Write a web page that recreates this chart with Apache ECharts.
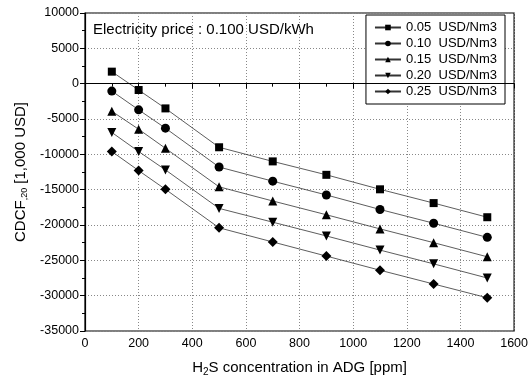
<!DOCTYPE html>
<html>
<head>
<meta charset="utf-8">
<script src="https://cdn.jsdelivr.net/npm/echarts@6/dist/echarts.min.js"></script>
<style>
  html, body { margin: 0; padding: 0; background: #fff; }
  #chart { width: 531px; height: 385px; }
</style>
</head>
<body>
<div id="chart"></div>
<script>
// H2S concentration (ppm)
const concentration = [100, 200, 300, 500, 700, 900, 1100, 1300, 1500];

// CDCF20 [1,000 USD] per biogas price
const price005 = [1700, -900, -3500, -9000, -11000, -12900, -14950, -16900, -18900];
const price010 = [-1050, -3700, -6300, -11800, -13800, -15750, -17800, -19750, -21750];
const price015 = [-3900, -6450, -9150, -14600, -16600, -18550, -20550, -22500, -24500];
const price020 = [-6900, -9600, -12200, -17650, -19600, -21550, -23550, -25500, -27500];
const price025 = [-9600, -12300, -14950, -20400, -22400, -24400, -26400, -28350, -30300];

const seriesNames = ['0.05  USD/Nm3', '0.10  USD/Nm3', '0.15  USD/Nm3', '0.20  USD/Nm3', '0.25  USD/Nm3'];
const seriesValues = [price005, price010, price015, price020, price025];
const symbols = ['rect', 'circle', 'triangle', 'triangle', 'diamond'];
const symbolRotates = [0, 0, 0, 180, 0];
const symbolSizes = [8, 9, 9, 9, 10];

const font = '"Liberation Sans", Arial, sans-serif';

const chart = echarts.init(document.getElementById('chart'));

const series = seriesNames.map((name, i) => ({
  name,
  type: 'line',
  data: concentration.map((x, j) => [x, seriesValues[i][j]]),
  symbol: symbols[i],
  symbolRotate: symbolRotates[i],
  symbolSize: symbolSizes[i],
  showAllSymbol: true,
  lineStyle: { color: '#333', width: 0.8 },
  itemStyle: { color: '#000' },
  animation: false,
  z: 3
}));

series[0].markLine = {
  silent: true,
  symbol: 'none',
  label: { show: false },
  lineStyle: { color: '#000', type: 'solid', width: 1.2 },
  data: [{ yAxis: 0 }],
  animation: false
};

chart.setOption({
  backgroundColor: '#fff',
  animation: false,
  textStyle: { fontFamily: font },
  grid: {
    left: 85, right: 14, top: 13, bottom: 54,
    show: true, borderColor: '#000', borderWidth: 1.2, backgroundColor: 'transparent'
  },
  legend: {
    right: 26, top: 15,
    orient: 'vertical',
    itemWidth: 26, itemHeight: 7,
    itemGap: 3,
    padding: [6, 8, 6, 8],
    borderColor: '#000', borderWidth: 1,
    backgroundColor: '#fff',
    textStyle: { fontFamily: font, fontSize: 13, color: '#000' },
    data: seriesNames
  },
  graphic: [{
    type: 'text',
    left: 93, top: 22,
    style: { text: 'Electricity price : 0.100 USD/kWh', font: '15px "Liberation Sans", Arial, sans-serif', fill: '#000' }
  }],
  xAxis: {
    type: 'value',
    min: 0, max: 1600, interval: 200,
    name: '{a|H}{s|2}{a|S concentration in ADG [ppm]}',
    nameLocation: 'middle',
    nameGap: 28,
    nameTextStyle: {
      rich: {
        a: { fontSize: 15, fontFamily: font, color: '#000' },
        s: { fontSize: 10, fontFamily: font, color: '#000', verticalAlign: 'bottom', padding: [8, 0, 0, 0] }
      }
    },
    axisLine: { lineStyle: { color: '#000', width: 1.2 } },
    axisTick: { show: true, inside: false, length: 5, lineStyle: { color: '#000' } },
    minorTick: { show: true, splitNumber: 2, length: 3, lineStyle: { color: '#000' } },
    axisLabel: { color: '#000', fontSize: 12.5, fontFamily: font, margin: 6, formatter: v => String(v) },
    splitLine: { show: true, lineStyle: { color: '#888', type: [1, 2], width: 1 } }
  },
  yAxis: {
    type: 'value',
    min: -35000, max: 10000, interval: 5000,
    name: '{a|CDCF}{s|,20}{a| [1,000 USD]}',
    nameLocation: 'middle',
    nameGap: 56,
    nameRotate: 90,
    nameTextStyle: {
      rich: {
        a: { fontSize: 15, fontFamily: font, color: '#000' },
        s: { fontSize: 9, fontFamily: font, color: '#000', verticalAlign: 'bottom', padding: [8, 0, 0, 0] }
      }
    },
    axisLine: { lineStyle: { color: '#000', width: 1.2 } },
    axisTick: { show: true, inside: false, length: 5, lineStyle: { color: '#000' } },
    minorTick: { show: true, splitNumber: 2, length: 3, lineStyle: { color: '#000' } },
    axisLabel: { color: '#000', fontSize: 12.5, fontFamily: font, margin: 6, formatter: v => String(v) },
    splitLine: { show: true, lineStyle: { color: '#888', type: [1, 2], width: 1 } }
  },
  series
});
</script>
</body>
</html>
